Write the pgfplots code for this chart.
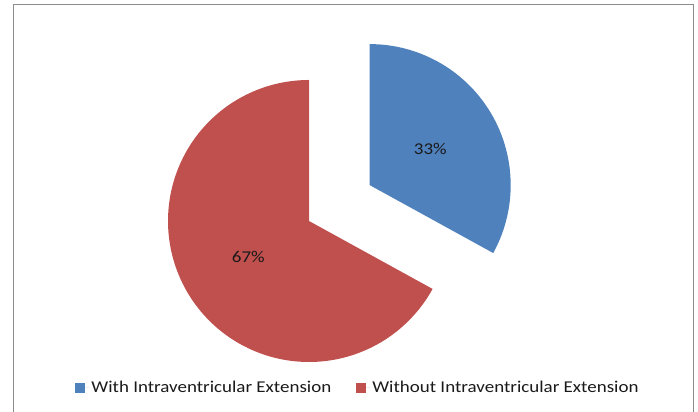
\documentclass[border=0pt]{standalone}
\usepackage{fontspec}
\setmainfont{Carlito}[FakeStretch=1.15]
\usepackage{pgfplots}
\usepackage{pgfplotstable}
\pgfplotsset{compat=1.18}

\definecolor{pieblue}{HTML}{4F81BD}
\definecolor{piered}{HTML}{C0504D}
\definecolor{framegray}{HTML}{8C8C8C}
\definecolor{txt}{HTML}{1A1A1A}

% share of cases (percent)
\pgfplotstableread{
group value
with 33
without 67
}\piedata

\begin{document}
\begin{tikzpicture}
\pgfplotstablegetelem{0}{value}\of\piedata \let\valA\pgfplotsretval
\pgfplotstablegetelem{1}{value}\of\piedata \let\valB\pgfplotsretval
% slice angles: start at 12 o'clock, first slice clockwise
\pgfmathsetmacro{\aStart}{90-3.6*\valA}
\pgfmathsetmacro{\bEnd}{90+3.6*\valB}
\pgfmathsetmacro{\aMid}{90-1.8*\valA}
\pgfmathsetmacro{\bMid}{90+1.8*\valB}
\def\R{141}
\def\cx{309}
\def\cy{191}
% exploded slice shifted by half a radius along its mid angle
\pgfmathsetmacro{\ax}{\cx+0.5*\R*cos(\aMid)}
\pgfmathsetmacro{\ay}{\cy+0.5*\R*sin(\aMid)}
\begin{axis}[
  name=pie,
  scale only axis, width=698bp, height=412bp,
  xmin=0, xmax=698, ymin=0, ymax=412,
  hide axis,
  /pgf/number format/assume math mode=true,
  legend columns=2,
  legend style={at={(axis cs:358,24)}, anchor=center, draw=none, fill=none,
    font=\color{txt}\fontsize{16.5bp}{19bp}\selectfont,
    /tikz/every even column/.append style={column sep=23bp},
    inner sep=0pt},
  legend image code/.code={\fill[#1] (0bp,-5bp) rectangle (10bp,5bp);
    \path (0bp,0bp) -- (14bp,0bp);},
]
% outer chart frame
\draw[framegray, line width=1.3bp] (axis cs:13.5,0) -- (axis cs:13.5,407.5)
  -- (axis cs:693.5,407.5) -- (axis cs:693.5,0);

\addplot[draw=none, fill=pieblue, domain=\aStart:90, samples=120, variable=\t]
  ({\ax+\R*cos(\t)}, {\ay+\R*sin(\t)}) -- (axis cs:\ax,\ay) -- cycle;
\addlegendentry{With Intraventricular Extension}
\addplot[draw=none, fill=piered, domain=90:\bEnd, samples=200, variable=\t]
  ({\cx+\R*cos(\t)}, {\cy+\R*sin(\t)}) -- (axis cs:\cx,\cy) -- cycle;
\addlegendentry{Without Intraventricular Extension}

\node[txt, font=\fontsize{16.5bp}{19bp}\selectfont]
  at (axis cs:{\ax+0.5*\R*cos(\aMid)},{\ay+0.5*\R*sin(\aMid)}) {\pgfmathprintnumber{\valA}\%};
\node[txt, font=\fontsize{16.5bp}{19bp}\selectfont]
  at (axis cs:{\cx+0.5*\R*cos(\bMid)},{\cy+0.5*\R*sin(\bMid)}) {\pgfmathprintnumber{\valB}\%};
\end{axis}
% keep the whole canvas, white margins included
\path (pie.south west) rectangle (pie.north east);
\end{tikzpicture}
\end{document}
